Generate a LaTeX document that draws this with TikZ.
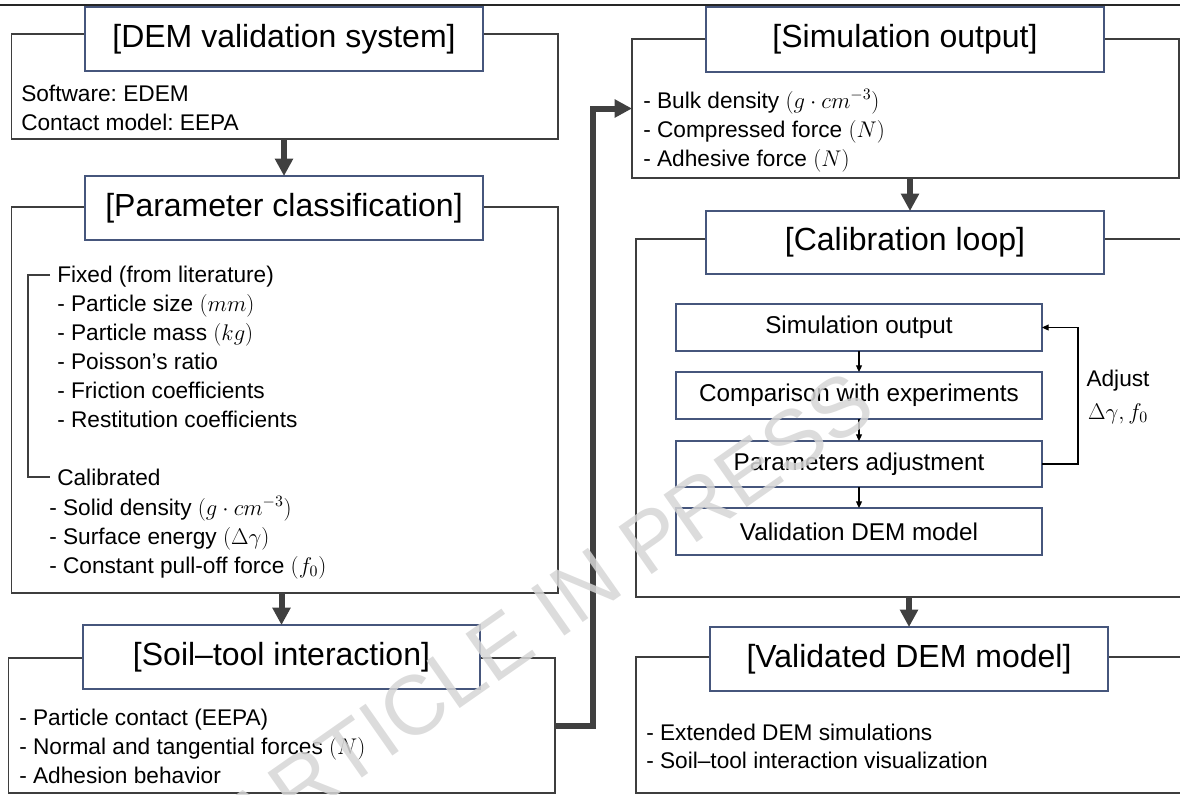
\documentclass[tikz,border=0pt]{standalone}
\usepackage{fix-cm}
\usepackage{fontspec}
\setmainfont{Liberation Sans}
\usetikzlibrary{arrows.meta,calc}
\definecolor{outergray}{RGB}{62,62,62}
\definecolor{titleblue}{RGB}{70,86,124}
\definecolor{arrowgray}{RGB}{64,64,64}
\definecolor{wmgray}{RGB}{214,214,214}
\newcommand{\fsTitle}{\fontsize{24}{28}\selectfont}
\newcommand{\fsBody}{\fontsize{17}{21.75}\selectfont}
\newcommand{\fsInner}{\fontsize{18.2}{21}\selectfont}
\frenchspacing
\begin{document}
\begin{tikzpicture}[x=0.75pt,y=-0.75pt,
  outerbox/.style={draw=outergray,line width=1.1pt,inner sep=0pt,outer sep=0pt},
  titlebox/.style={draw=titleblue,line width=1.1pt,fill=white,inner sep=0pt,outer sep=0pt,font=\fsTitle},
  innerbox/.style={draw=titleblue,line width=1.1pt,fill=white,inner sep=0pt,outer sep=0pt,minimum width=274.5pt,minimum height=35.25pt,font=\fsInner},
  bodytext/.style={anchor=base west,inner sep=0pt,align=left,font=\fsBody},
  bigarrow/.style={draw=arrowgray,line width=4.5pt,-{Triangle[length=13pt,width=13pt]}},
  smallarrow/.style={draw=black,line width=0.8pt,-{Triangle[length=5pt,width=4.5pt]}},
  thinline/.style={draw=outergray,line width=1.1pt}]
\useasboundingbox (0,0) rectangle (1180,794);
\clip (0,0) rectangle (1180,794);

% top rule
\coordinate (tl) at (0,5);
\coordinate (tr) at (1180,5);
\draw[draw=black!85,line width=1.5pt] (tl) -- (tr);

% ---------- left column ----------
\node[outerbox,minimum width=409.9pt,minimum height=78.75pt] (o1) at (284.75,86.5) {};
\node[outerbox,minimum width=409.9pt,minimum height=289.5pt] (o2) at (284.75,400) {};
\node[outerbox,minimum width=409.9pt,minimum height=101.25pt] (o3) at (281.75,725.5) {};

\node[titlebox,minimum width=298.5pt,minimum height=48pt] (t1) at (284,39) {[DEM validation system]};
\node[titlebox,minimum width=298.5pt,minimum height=48pt] (t2) at (284,208) {[Parameter classification]};
\node[titlebox,minimum width=297.75pt,minimum height=48pt] (t3) at (281.5,657) {[Soil–tool interaction]};

% multi-line nodes: base anchor = baseline of the last line
\node[bodytext] (sw) at (21,130) {Software: EDEM\\Contact model: EEPA};

\node[bodytext] (fixedlbl) at (57,282) {Fixed (from literature)};
\node[bodytext] (fixitems) at (57,427) {- Particle size $(mm)$\\- Particle mass $(kg)$\\- Poisson’s ratio\\- Friction coefficients\\- Restitution coefficients};
\node[bodytext] (callbl) at (57,485) {Calibrated};
\node[bodytext] (calitems) at (49,573) {- Solid density $(g\cdot cm^{-3})$\\- Surface energy $(\Delta\gamma)$\\- Constant pull-off force $(f_0)$};
\draw[thinline] ($(fixedlbl.west)+(-7,-1)$) -- ++(-22,0) |- ($(callbl.west)+(-7,0)$);

\node[bodytext] (soiltext) at (19,783) {- Particle contact (EEPA)\\- Normal and tangential forces $(N)$\\- Adhesion behavior};

\draw[bigarrow] (t2.north |- o1.south) -- (t2.north);
\draw[bigarrow] (t3.north |- o2.south) -- (t3.north);

% ---------- right column ----------
\node[outerbox,minimum width=410.25pt,minimum height=104.25pt] (o4) at (905.5,108.5) {};
\node[outerbox,minimum width=412.5pt,minimum height=268.5pt] (o5) at (911,418) {};
\node[outerbox,minimum width=412.5pt,minimum height=102pt] (o6) at (911,725) {};

\node[titlebox,minimum width=298.5pt,minimum height=48.75pt] (t4) at (905,39.5) {[Simulation output]};
\node[titlebox,minimum width=298.5pt,minimum height=47.25pt] (t5) at (905,242.5) {[Calibration loop]};
\node[titlebox,minimum width=298.5pt,minimum height=48pt] (t6) at (909,659) {[Validated DEM model]};

\node[bodytext] (simtext) at (643,166) {- Bulk density $(g\cdot cm^{-3})$\\- Compressed force $(N)$\\- Adhesive force $(N)$};
\node[bodytext,font=\fontsize{17}{21}\selectfont] (valtext) at (646,768) {- Extended DEM simulations\\- Soil–tool interaction visualization};

\node[innerbox] (b1) at (859,327.5) {Simulation output};
\node[innerbox] (b2) at (859,395.5) {Comparison with experiments};
\node[innerbox,minimum height=34.5pt] (b3) at (859,464) {Parameters adjustment};
\node[innerbox] (b4) at (859,531.5) {Validation DEM model};

\draw[smallarrow] (b1) -- (b2);
\draw[smallarrow] (b2) -- (b3);
\draw[smallarrow] (b3) -- (b4);
\draw[smallarrow] (b3.east) -- ++(36,0) |- (b1.east);
\node[align=center,inner sep=0pt,font=\fontsize{17}{24.75}\selectfont] (adj) at (1118,397) {Adjust\\$\Delta\gamma,f_0$};

\draw[bigarrow] ($(o4.south)+(4.5,0)$) -- ($(t5.north)+(5,0)$);
\draw[bigarrow] (t6.north |- o5.south) -- (t6.north);

% thick connector
\coordinate (bend) at (593,0);
\draw[bigarrow,line width=4.5pt] (o3.east) -| (bend |- o4.west) -- (o4.west);

% watermark
\node[text=wmgray,text opacity=0.85,rotate=35,inner sep=0pt,font=\fontsize{63}{63}\selectfont] (wmark) at (548,612) {ARTICLE IN PRESS};
\end{tikzpicture}
\end{document}
